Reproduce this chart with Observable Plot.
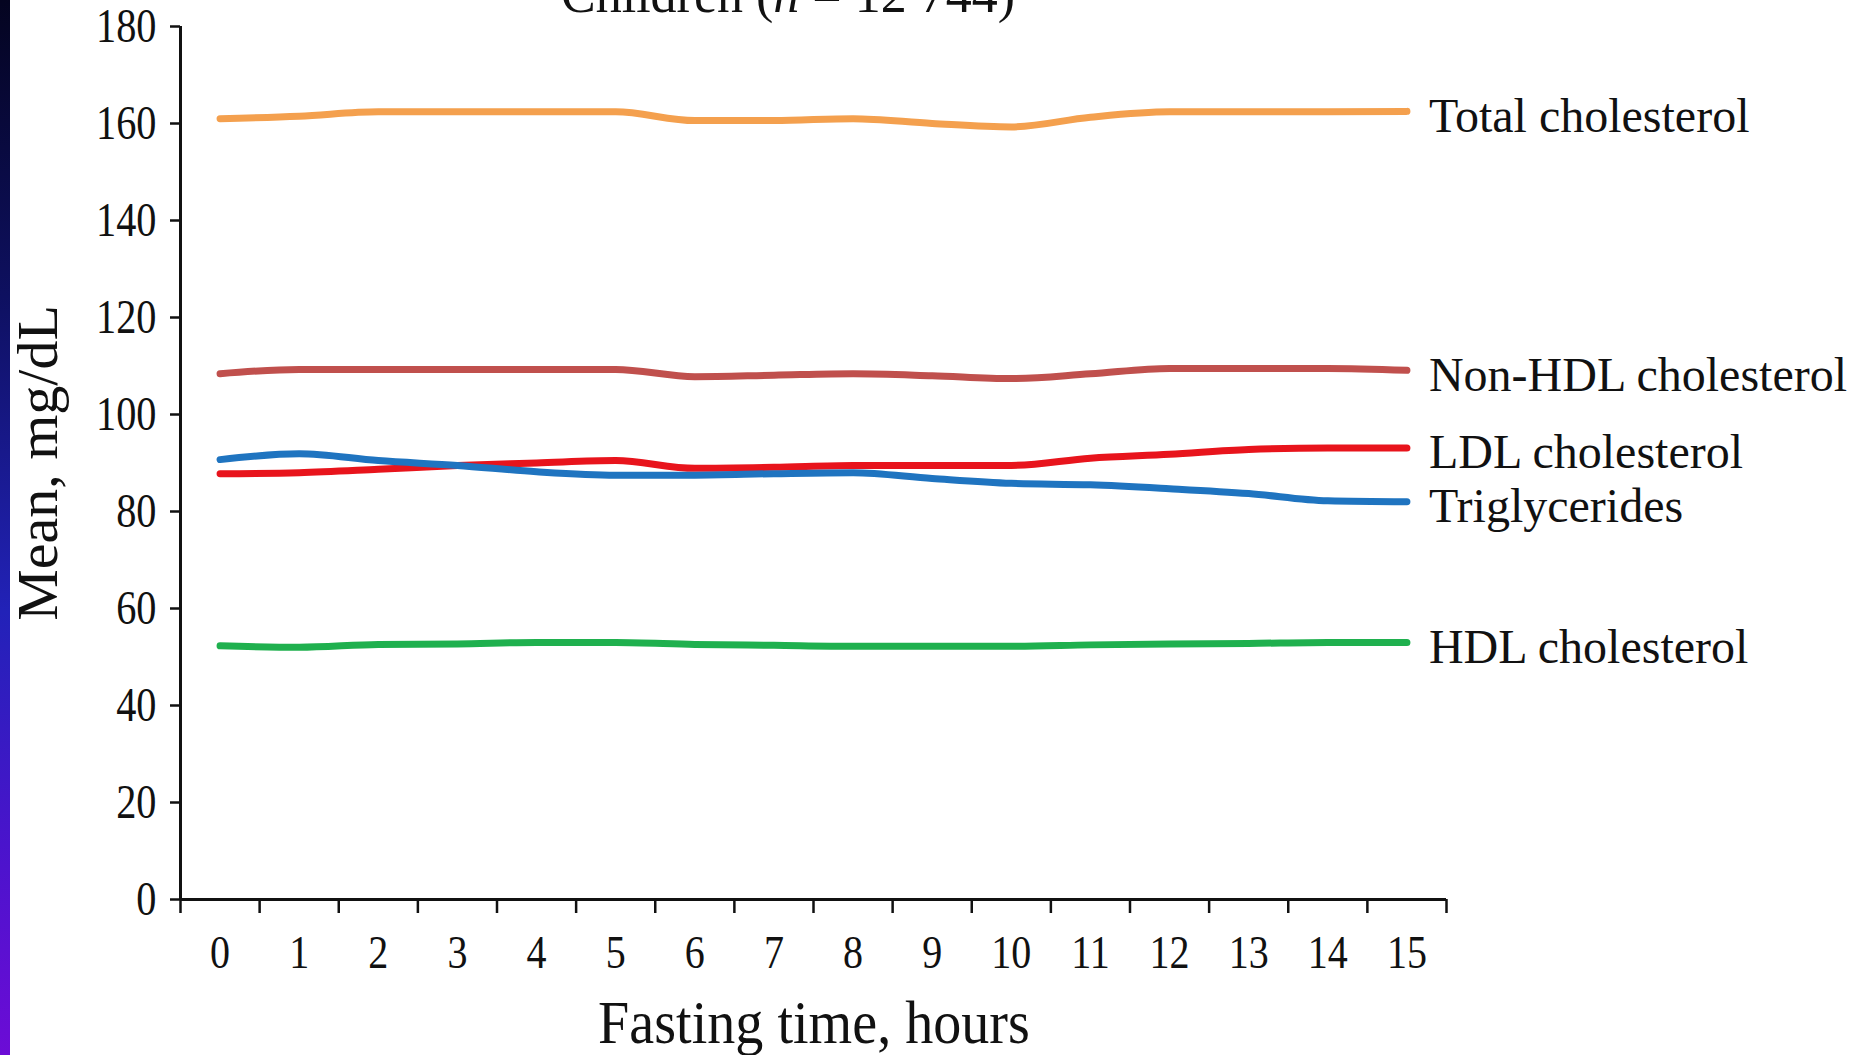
<!DOCTYPE html>
<html>
<head>
<meta charset="utf-8">
<script src="https://cdn.jsdelivr.net/npm/d3@7"></script>
<script src="https://cdn.jsdelivr.net/npm/@observablehq/plot@0.6"></script>
<style>
  html, body { margin: 0; padding: 0; background: #ffffff; }
  body { width: 1855px; height: 1055px; position: relative; overflow: hidden; font-family: "Liberation Serif", "DejaVu Serif", serif; }
  #strip { position: absolute; left: 0; top: 0; width: 10px; height: 1055px;
    background: linear-gradient(to bottom, #040420 0%, #0e1060 28%, #2222b8 58%, #4a14cc 80%, #6c0cd6 100%); z-index: 2; }
  #title { position: absolute; left: 0; width: 1576px; top: -31px; text-align: center;
    font-size: 52px; line-height: 52px; color: #111; z-index: 1; }
  #chart { position: absolute; left: 0; top: 0; }
</style>
</head>
<body>
<div id="strip"></div>
<div id="title">Children (<i>n</i> = 12 744)</div>
<div id="chart"></div>
<script>
// ---- data ----
const hours = [0, 1, 2, 3, 4, 5, 6, 7, 8, 9, 10, 11, 12, 13, 14, 15];
const totalCholesterol = [161.0, 161.5, 162.4, 162.4, 162.4, 162.4, 160.6, 160.6, 161.0, 160.0, 159.3, 161.3, 162.4, 162.4, 162.4, 162.5];
const nonHdlCholesterol = [108.4, 109.3, 109.3, 109.3, 109.3, 109.3, 107.8, 108.1, 108.4, 108.0, 107.4, 108.4, 109.5, 109.5, 109.5, 109.1];
const ldlCholesterol = [87.8, 88.0, 88.7, 89.5, 90.0, 90.5, 88.9, 89.1, 89.5, 89.5, 89.5, 91.0, 91.8, 92.8, 93.1, 93.1];
const triglycerides = [90.7, 91.9, 90.5, 89.5, 88.2, 87.5, 87.5, 87.8, 88.0, 86.8, 85.8, 85.5, 84.7, 83.7, 82.2, 82.0];
const hdlCholesterol = [52.3, 52.0, 52.6, 52.7, 53.0, 53.0, 52.6, 52.4, 52.2, 52.2, 52.2, 52.5, 52.7, 52.8, 53.0, 53.0];

const seriesNames = ["Total cholesterol", "Non-HDL cholesterol", "LDL cholesterol", "Triglycerides", "HDL cholesterol"];
const seriesValues = [totalCholesterol, nonHdlCholesterol, ldlCholesterol, triglycerides, hdlCholesterol];
const seriesColors = ["#F4A04E", "#C0504D", "#E8141C", "#1F74C0", "#1FB04E"];

const yTicks = [0, 20, 40, 60, 80, 100, 120, 140, 160, 180];
const xTickEdges = [-0.5, 0.5, 1.5, 2.5, 3.5, 4.5, 5.5, 6.5, 7.5, 8.5, 9.5, 10.5, 11.5, 12.5, 13.5, 14.5, 15.5];
const xDomain = [-0.5, 15.5];
const yDomain = [0, 180];
const xLabel = "Fasting time, hours";
const yLabel = "Mean, mg/dL";

// ---- table for Plot ----
const data = seriesNames.flatMap((name, i) =>
  seriesValues[i].map((v, j) => ({series: name, hour: hours[j], value: v}))
);

const FONT = "Liberation Serif";

const chart = Plot.plot({
  width: 1855,
  height: 1055,
  marginLeft: 180,
  marginRight: 409,
  marginTop: 26,
  marginBottom: 156,
  style: {fontFamily: FONT, background: "transparent", color: "#111", overflow: "visible"},
  x: {domain: xDomain},
  y: {domain: yDomain},
  color: {domain: seriesNames, range: seriesColors},
  marks: [
    Plot.axisY(yTicks, {tickSize: 10, tickPadding: 14, fontSize: 48, strokeWidth: 2.5, label: null}),
    Plot.axisX(xTickEdges, {tickSize: 14, tickFormat: () => "", strokeWidth: 2.5, label: null}),
    Plot.axisX(hours, {tickSize: 0, tickPadding: 36, fontSize: 46, label: null}),
    Plot.ruleX([xDomain[0]], {stroke: "#111", strokeWidth: 3}),
    Plot.ruleY([yDomain[0]], {stroke: "#111", strokeWidth: 3}),
    Plot.line(data, {x: "hour", y: "value", z: "series", stroke: "series",
      strokeWidth: 7, curve: "monotone-x", strokeLinecap: "round", strokeLinejoin: "round"}),
    Plot.text(data, Plot.selectLast({x: "hour", y: "value", z: "series", text: "series",
      textAnchor: "start", dx: 22, dy: 5, fontSize: 48, fill: "#111"}))
  ]
});

document.getElementById("chart").appendChild(chart);

const svg = d3.select(chart);
// condense axis tick labels like the reference
function squeeze(sel, k) {
  sel.each(function() {
    const t = this.getAttribute("transform");
    if (t) this.setAttribute("transform", t + ` scale(${k},1)`);
  });
}
squeeze(svg.selectAll('g[aria-label="x-axis tick label"] text'), 0.87);
squeeze(svg.selectAll('g[aria-label="y-axis tick label"] text'), 0.84);

// axis titles
svg.append("text")
  .attr("transform", "translate(814,1043) scale(0.92,1)")
  .attr("text-anchor", "middle")
  .attr("font-family", FONT)
  .attr("font-size", 61)
  .attr("fill", "#111")
  .text(xLabel);

svg.append("text")
  .attr("transform", "translate(57,463) rotate(-90)")
  .attr("text-anchor", "middle")
  .attr("font-family", FONT)
  .attr("font-size", 58)
  .attr("fill", "#111")
  .text(yLabel);
</script>
</body>
</html>
